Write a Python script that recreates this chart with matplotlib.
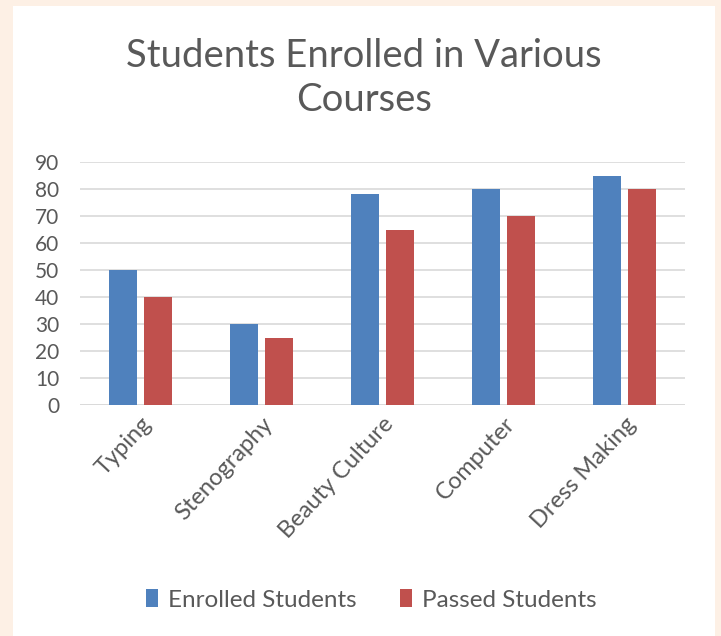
import numpy as np
import matplotlib
matplotlib.use("Agg")
import matplotlib.pyplot as plt
from matplotlib.patches import Rectangle

courses = ["Typing", "Stenography", "Beauty Culture", "Computer", "Dress Making"]
enrolled = [50, 30, 78, 80, 85]
passed = [40, 25, 65, 70, 80]
yticks = [0, 10, 20, 30, 40, 50, 60, 70, 80, 90]

W, H = 721, 636
plt.rcParams["font.family"] = ["Lato", "DejaVu Sans"]
grey = "#595959"

fig = plt.figure(figsize=(W / 100, H / 100), dpi=100)
fig.patch.set_facecolor("#FDF0E5")
# white chart panel
fig.patches.append(Rectangle((13 / W, 0), (715 - 13) / W, (H - 6) / H,
                             transform=fig.transFigure, facecolor="white",
                             edgecolor="none", zorder=-10))

ax = fig.add_axes([80 / W, 1 - 405 / H, (685 - 80) / W, (405 - 162) / H])
ax.set_facecolor("none")

x = np.arange(len(courses))
bw = 0.23
off = 0.145
ax.bar(x - off, enrolled, bw, color="#4F81BD", label="Enrolled Students", zorder=3)
ax.bar(x + off, passed, bw, color="#C0504D", label="Passed Students", zorder=3)

ax.set_xlim(-0.5, len(courses) - 0.5)
ax.set_ylim(0, 90)
ax.set_yticks(yticks)
ax.yaxis.grid(True, color="#D9D9D9", linewidth=1.2, zorder=0)
for s in ax.spines.values():
    s.set_visible(False)
ax.axhline(0, color="#D9D9D9", linewidth=1.2, zorder=1)
ax.tick_params(axis="y", length=0, pad=15, labelsize=15, labelcolor=grey)
ax.tick_params(axis="x", length=0, pad=6, labelsize=17, labelcolor=grey)
ax.set_xticks(x)
ax.set_xticklabels(courses, rotation=47, ha="right", rotation_mode="anchor")

fig.text(364 / W, 1 - 78 / H, "Students Enrolled in Various\nCourses",
         ha="center", va="center", fontsize=27.5, color=grey, linespacing=1.3)

fig.legend(loc="center", bbox_to_anchor=(371 / W, 1 - 600 / H), ncol=2,
           frameon=False, fontsize=17.5, labelcolor=grey, handlelength=0.5,
           handleheight=0.75, handletextpad=0.4, columnspacing=1.8)

fig.savefig("out.png", dpi=100, facecolor=fig.get_facecolor())
